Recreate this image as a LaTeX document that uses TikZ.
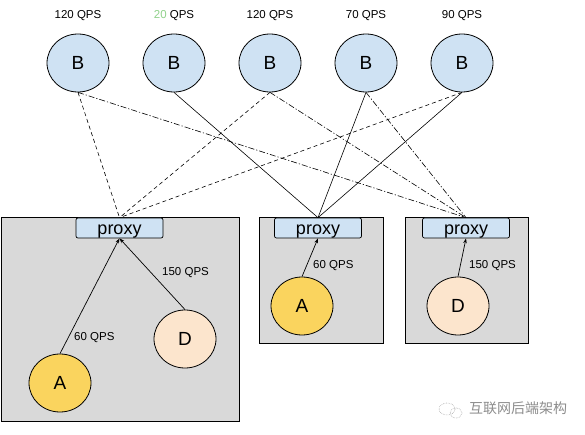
\documentclass[tikz,border=0pt]{standalone}
\usepackage{fontspec}
\setmainfont{Liberation Sans}
\newfontfamily\cjk{Noto Sans CJK SC}
\usetikzlibrary{shapes.geometric,arrows.meta}
\definecolor{bblue}{HTML}{CFE2F3}
\definecolor{ayel}{HTML}{FAD45E}
\definecolor{dpeach}{HTML}{FCE5CD}
\definecolor{boxgray}{HTML}{D9D9D9}
\definecolor{qgreen}{HTML}{8FD18A}
\tikzset{
  circ/.style={ellipse,draw=black,line width=0.8pt,minimum width=62pt,minimum height=58pt,inner sep=0pt,font=\fontsize{19}{19}\selectfont},
  bnode/.style={circ,fill=bblue},
  anode/.style={circ,fill=ayel},
  dnode/.style={circ,fill=dpeach},
  graybox/.style={draw=black,line width=0.7pt,fill=boxgray},
  proxybox/.style={draw=black,line width=0.7pt,fill=bblue,rounded corners=2pt,minimum width=87pt,minimum height=20pt,inner sep=0pt,text height=13pt,text depth=0pt,font=\fontsize{18}{18}\selectfont},
  qps/.style={font=\fontsize{11.5}{12}\selectfont,inner sep=0pt},
  lbl/.style={qps,anchor=west},
  conn/.style={line width=0.6pt},
  dashline/.style={conn,dash pattern=on 4pt off 3pt},
  dotline/.style={conn,dash pattern=on 6pt off 2pt on 1.2pt off 2pt},
  arr/.style={line width=0.7pt,-{Stealth[length=5pt,width=3.5pt]}}
}
\begin{document}
\begin{tikzpicture}[x=1pt,y=-1pt]
\useasboundingbox (0,0) rectangle (585,435);
% gray boxes
\draw[graybox] (1,217) rectangle (239,421);
\draw[graybox] (259,217) rectangle (383,343);
\draw[graybox] (405,217) rectangle (528,343);
% proxies
\node[proxybox] (p1) at (119.5,228) {proxy};
\node[proxybox] (p2) at (318,228) {proxy};
\node[proxybox] (p3) at (466,228) {proxy};
% B nodes
\node[bnode] (b1) at (78,63) {B};
\node[bnode] (b2) at (174,63) {B};
\node[bnode] (b3) at (270,63) {B};
\node[bnode] (b4) at (366,63) {B};
\node[bnode] (b5) at (462,63) {B};
% QPS labels
\node[qps] (q1) at (78,16) {120 QPS};
\node[qps] (q2) at (174,16) {\textcolor{qgreen}{20} QPS};
\node[qps] (q3) at (270,16) {120 QPS};
\node[qps] (q4) at (366,16) {70 QPS};
\node[qps] (q5) at (462,16) {90 QPS};
% connectors
\draw[dashline] (b1.south) -- (p1.north);
\draw[dotline] (b1.south) -- (p3.north);
\draw[conn] (b2.south) -- (p2.north);
\draw[dashline] (b3.south) -- (p1.north);
\draw[dotline] (b3.south) -- (p3.north);
\draw[conn] (b4.south) -- (p2.north);
\draw[dotline] (b4.south) -- (p3.north);
\draw[dashline] (b5.south) -- (p1.north);
\draw[conn] (b5.south) -- (p2.north);
% clients
\node[anode] (a1) at (60,383) {A};
\node[dnode] (d1) at (185,339) {D};
\node[anode] (a2) at (302,306) {A};
\node[dnode] (d2) at (458,306) {D};
\draw[arr] (a1.north) -- (p1.south);
\draw[arr] (d1.north) -- (p1.south);
\draw[arr] (a2.north) -- (p2.south);
\draw[arr] (d2.north) -- (p3.south);
\node[lbl] (l1) at (74,338) {60 QPS};
\node[lbl] (l2) at (162,273) {150 QPS};
\node[lbl] (l3) at (313,266) {60 QPS};
\node[lbl] (l4) at (469,266) {150 QPS};
% watermark
\draw[gray!70,line width=0.6pt,densely dotted] (447,409) ellipse (8pt and 6pt);
\draw[gray!70,line width=0.6pt,densely dotted] (456,413) ellipse (6pt and 5pt);
\node[anchor=west,inner sep=0pt,text=gray!90,font=\cjk\fontsize{14}{14}\selectfont] (wm) at (469,408) {互联网后端架构};
\end{tikzpicture}
\end{document}
